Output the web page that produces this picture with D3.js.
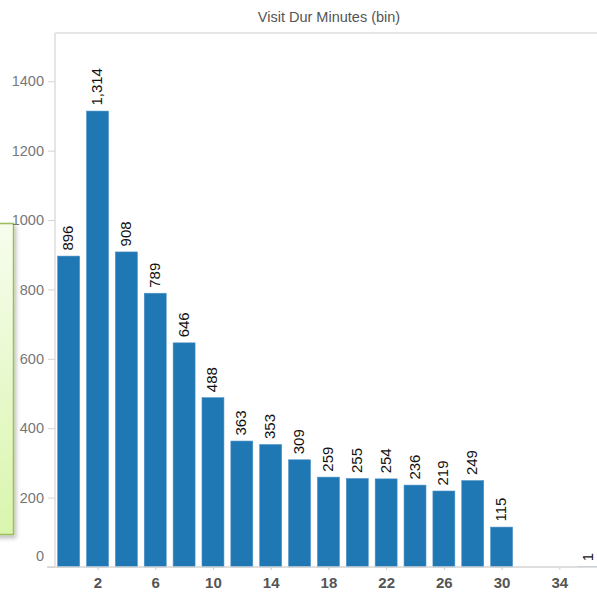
<!DOCTYPE html>
<html>
<head>
<meta charset="utf-8">
<script src="https://cdn.jsdelivr.net/npm/d3@7"></script>
<style>
  html, body { margin: 0; padding: 0; background: #fff; }
  svg { display: block; font-family: "Liberation Sans", Arial, sans-serif; }
</style>
</head>
<body>
<svg id="chart" width="597" height="598"></svg>
<script>
// Visit duration histogram: 2-minute bins, record counts per bin
const binStarts = [0, 2, 4, 6, 8, 10, 12, 14, 16, 18, 20, 22, 24, 26, 28, 30, 36];
const counts = [896, 1314, 908, 789, 646, 488, 363, 353, 309, 259, 255, 254, 236, 219, 249, 115, 1];
const xTicks = [2, 6, 10, 14, 18, 22, 26, 30, 34];
const yTicks = [0, 200, 400, 600, 800, 1000, 1200, 1400];
const title = "Visit Dur Minutes (bin)";

const svg = d3.select("#chart");
const plot = { left: 55, right: 597, top: 33, bottom: 567 };

const x = d3.scaleLinear().domain([-0.945, 36.61]).range([plot.left, plot.right]);
const y = d3.scaleLinear().domain([0, 1539]).range([plot.bottom, plot.top]);
const binW = 2;
const barW = (x(binW) - x(0)) * 0.76;

// Tooltip-style panel partly off the left edge
const defs = svg.append("defs");
const grad = defs.append("linearGradient").attr("id", "tipFill")
  .attr("x1", 0).attr("y1", 0).attr("x2", 0).attr("y2", 1);
grad.append("stop").attr("offset", "0%").attr("stop-color", "#f7fdee");
grad.append("stop").attr("offset", "100%").attr("stop-color", "#d9f5ad");
const shadow = defs.append("filter").attr("id", "tipShadow")
  .attr("x", "-50%").attr("y", "-10%").attr("width", "200%").attr("height", "130%");
shadow.append("feDropShadow").attr("dx", 2).attr("dy", 3).attr("stdDeviation", 2)
  .attr("flood-color", "#000").attr("flood-opacity", 0.25);
svg.append("rect")
  .attr("x", -20).attr("y", 223.5).attr("width", 33.5).attr("height", 311)
  .attr("fill", "url(#tipFill)").attr("stroke", "#9cbd5c").attr("stroke-width", 1.5)
  .attr("filter", "url(#tipShadow)");

// Title
svg.append("text")
  .attr("x", 329).attr("y", 22)
  .attr("text-anchor", "middle")
  .attr("font-size", 14.5).attr("fill", "#555")
  .text(title);

// Frame lines
svg.append("line")
  .attr("x1", plot.left).attr("x2", plot.right)
  .attr("y1", plot.top).attr("y2", plot.top)
  .attr("stroke", "#dcdcdc").attr("stroke-width", 1.5);
svg.append("line")
  .attr("x1", plot.left).attr("x2", plot.left)
  .attr("y1", plot.top).attr("y2", plot.bottom)
  .attr("stroke", "#dcdcdc").attr("stroke-width", 1.5);

// Y axis
const yAxis = svg.append("g")
  .attr("transform", `translate(${plot.left},0)`)
  .call(d3.axisLeft(y).tickValues(yTicks).tickSize(7).tickPadding(4).tickFormat(d3.format("d")));
yAxis.select(".domain").remove();
yAxis.selectAll(".tick line").attr("stroke", "#d4d4d4");
yAxis.selectAll(".tick text")
  .attr("fill", "#777").attr("font-size", 14.5)
  .attr("font-family", "'Liberation Sans', Arial, sans-serif")
  .attr("dy", d => d === 0 ? "-0.45em" : "0.32em");

// Bars
const rows = binStarts.map((b, i) => ({ b, v: counts[i] }));
svg.append("g").selectAll("rect")
  .data(rows)
  .join("rect")
  .attr("x", d => x(d.b) - barW / 2)
  .attr("width", barW)
  .attr("y", d => y(d.v))
  .attr("height", d => y(0) - y(d.v))
  .attr("fill", "#1f77b4")
  .attr("stroke", d => (y(0) - y(d.v)) > 2 ? "#4a90c4" : "none")
  .attr("stroke-width", 0.6);

// Value labels, rotated
const fmt = d3.format(",");
svg.append("g").selectAll("text")
  .data(rows)
  .join("text")
  .attr("transform", d => `translate(${x(d.b) + 4.5},${y(d.v) - 5.5}) rotate(-90)`)
  .attr("font-size", 15).attr("fill", "#111")
  .text(d => fmt(d.v));

// X axis
const xAxis = svg.append("g")
  .attr("transform", `translate(0,${plot.bottom})`)
  .call(d3.axisBottom(x).tickValues(xTicks).tickSize(3).tickPadding(7).tickFormat(d3.format("d")));
xAxis.select(".domain").remove();
xAxis.selectAll(".tick line").attr("stroke", "#ccc");
xAxis.selectAll(".tick text")
  .attr("fill", "#555").attr("font-size", 15).attr("font-weight", "bold")
  .attr("font-family", "'Liberation Sans', Arial, sans-serif");
svg.append("line")
  .attr("x1", 47).attr("x2", plot.right)
  .attr("y1", plot.bottom).attr("y2", plot.bottom)
  .attr("stroke", "#d4d4d4").attr("stroke-width", 1.5);
</script>
</body>
</html>
